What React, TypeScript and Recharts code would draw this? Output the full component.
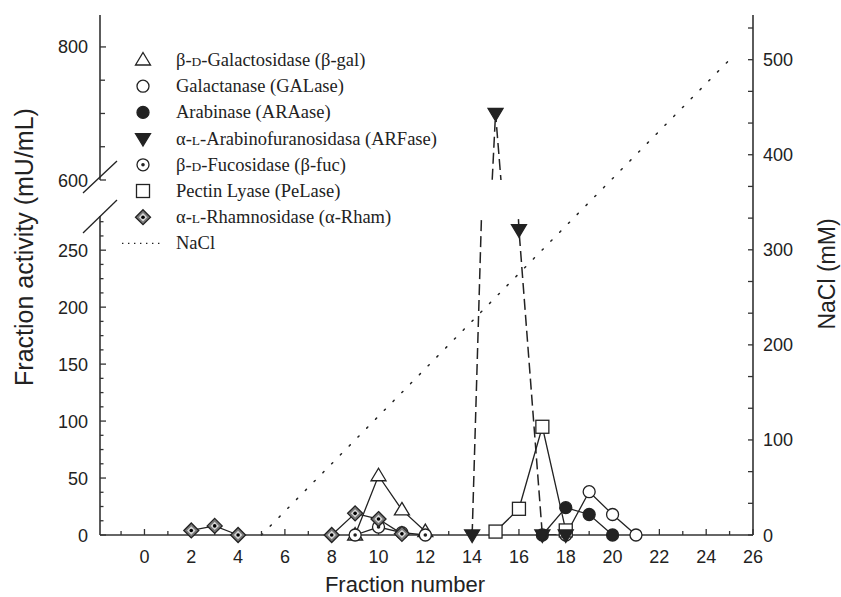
import { LineChart, Line, XAxis, YAxis, Legend } from 'recharts';

// Fraction numbers and activities (mU/mL)
const BGAL_X = [9, 10, 11, 12];
const BGAL_Y = [0, 52, 22, 3];
const GAL_X = [18, 19, 20, 21];
const GAL_Y = [0, 38, 18, 0];
const ARA_X = [17, 18, 19, 20];
const ARA_Y = [0, 24, 18, 0];
const ARF_X = [14, 15, 16, 17, 18];
const ARF_Y = [0, 700, 268, 0, 0];
const FUC_X = [9, 10, 11, 12];
const FUC_Y = [0, 7, 2, 0];
const PEL_X = [15, 16, 17, 18];
const PEL_Y = [3, 23, 95, 4];
const RHAM_X = [2, 3, 4, 6, 8, 9, 10, 11];
const RHAM_Y: (number | null)[] = [4, 8, 0, null, 0, 19, 14, 1];
const NACL_X = [5, 25];
const NACL_Y = [0, 500];

const LEGEND_LABELS = [
  'β-|D|-Galactosidase (β-gal)',
  'Galactanase (GALase)',
  'Arabinase (ARAase)',
  'α-|L|-Arabinofuranosidasa (ARFase)',
  'β-|D|-Fucosidase (β-fuc)',
  'Pectin Lyase (PeLase)',
  'α-|L|-Rhamnosidase (α-Rham)',
  'NaCl',
];

// axes
const X_DOMAIN = [-1.9, 26];
const X_TICKS = [-1, 0, 1, 2, 3, 4, 5, 6, 7, 8, 9, 10, 11, 12, 13, 14, 15, 16, 17, 18, 19, 20, 21, 22, 23, 24, 25, 26];
const X_LABELS = [0, 2, 4, 6, 8, 10, 12, 14, 16, 18, 20, 22, 24, 26];
const LOW_DOMAIN = [0, 280];
const LOW_TICKS = [0, 12.5, 25, 37.5, 50, 62.5, 75, 87.5, 100, 112.5, 125, 137.5, 150, 162.5, 175, 187.5, 200, 212.5, 225, 237.5, 250, 262.5, 275];
const LOW_LABELS = [0, 50, 100, 150, 200, 250];
const HIGH_DOMAIN = [600, 848];
const HIGH_TICKS = [600, 650, 700, 750, 800];
const HIGH_LABELS = [600, 800];
const NACL_DOMAIN = [0, 547];
const NACL_TICKS = [0, 33.33, 66.67, 100, 133.33, 166.67, 200, 233.33, 266.67, 300, 333.33, 366.67, 400, 433.33, 466.67, 500, 533.33];
const NACL_LABELS = [0, 100, 200, 300, 400, 500];

const W = 841;
const H = 597;
const INK = '#222';
const AXIS = { stroke: '#333', strokeWidth: 1.6 };
const SANS = '"Liberation Sans", Arial, sans-serif';
const SERIF = '"Liberation Serif", "Times New Roman", serif';

const pts = (xs: number[], ys: (number | null)[]) => xs.map((x, i) => ({ x, y: ys[i] }));

type Kind = 'triUp' | 'circle' | 'disc' | 'triDown' | 'dotCircle' | 'square' | 'diamond';

function Marker({ kind, cx, cy }: { kind: Kind; cx: number; cy: number }) {
  const s = { stroke: INK, strokeWidth: 1.3 };
  switch (kind) {
    case 'triUp':
      return <path d={`M${cx},${cy - 7.5}L${cx + 7.5},${cy + 5}L${cx - 7.5},${cy + 5}Z`} fill="#fff" {...s} />;
    case 'triDown':
      return <path d={`M${cx - 7.5},${cy - 5}L${cx + 7.5},${cy - 5}L${cx},${cy + 7.5}Z`} fill={INK} {...s} />;
    case 'circle':
      return <circle cx={cx} cy={cy} r={6} fill="#fff" {...s} />;
    case 'disc':
      return <circle cx={cx} cy={cy} r={6} fill={INK} {...s} />;
    case 'dotCircle':
      return (
        <g>
          <circle cx={cx} cy={cy} r={6} fill="#fff" {...s} />
          <circle cx={cx} cy={cy} r={1.8} fill={INK} />
        </g>
      );
    case 'square':
      return <rect x={cx - 6.5} y={cy - 6.5} width={13} height={13} fill="#fff" {...s} />;
    case 'diamond':
      return (
        <g>
          <path d={`M${cx},${cy - 7.5}L${cx + 7.5},${cy}L${cx},${cy + 7.5}L${cx - 7.5},${cy}Z`} fill="#777" {...s} />
          <path d={`M${cx},${cy - 4.2}L${cx + 4.2},${cy}L${cx},${cy + 4.2}L${cx - 4.2},${cy}Z`} fill="#d8d8d8" />
          <circle cx={cx} cy={cy} r={1.8} fill="#000" />
        </g>
      );
  }
}

const dotFor = (kind: Kind) => (p: any) => {
  const k = `d-${kind}-${p.index}`;
  if (p.cx == null || p.cy == null || Number.isNaN(p.cx) || Number.isNaN(p.cy)) return <g key={k} />;
  return <g key={k}><Marker kind={kind} cx={p.cx} cy={p.cy} /></g>;
};

function XTick({ x, y, payload }: any) {
  const major = X_LABELS.includes(payload.value);
  return (
    <g>
      <line x1={x} x2={x} y1={y} y2={y - (major ? 6 : 4)} stroke="#333" strokeWidth={1.3} />
      {major && (
        <text x={x} y={y + 28} textAnchor="middle" fontFamily={SANS} fontSize={18} fill={INK}>
          {payload.value}
        </text>
      )}
    </g>
  );
}

const leftTick = (labels: number[], minorLen: number) => ({ x, y, payload }: any) => {
  const major = labels.includes(payload.value);
  return (
    <g>
      <line x1={x} x2={x + (major ? 6 : minorLen)} y1={y} y2={y} stroke="#333" strokeWidth={1.3} />
      {major && (
        <text x={x - 12} y={y + 6.5} textAnchor="end" fontFamily={SANS} fontSize={18} fill={INK}>
          {payload.value}
        </text>
      )}
    </g>
  );
};

function NaclTick({ x, y, payload }: any) {
  const major = NACL_LABELS.includes(payload.value);
  return (
    <g>
      <line x1={x} x2={x - 5} y1={y} y2={y} stroke="#333" strokeWidth={1.3} />
      {major && (
        <text x={x + 10} y={y + 6.5} textAnchor="start" fontFamily={SANS} fontSize={18} fill={INK}>
          {payload.value}
        </text>
      )}
    </g>
  );
}

function Title({ tx, ty, rot, text, size }: { tx: number; ty: number; rot: number; text: string; size: number }) {
  return (
    <text
      x={tx}
      y={ty}
      textAnchor="middle"
      fontFamily={SANS}
      fontSize={size}
      fill={INK}
      transform={rot ? `rotate(${rot}, ${tx}, ${ty})` : undefined}
    >
      {text}
    </text>
  );
}

const LEG_LEFT = 110;
const LEG_TOP = 40;
const LEGEND_KINDS: Kind[] = ['triUp', 'circle', 'disc', 'triDown', 'dotCircle', 'square', 'diamond'];

function LegendBox() {
  return (
    <svg width={360} height={230} style={{ overflow: 'visible' }}>
      {LEGEND_LABELS.map((label, i) => {
        const cy = 60 - LEG_TOP + i * 26.2;
        const parts = label.split('|');
        return (
          <g key={label}>
            {i < LEGEND_KINDS.length ? (
              <Marker kind={LEGEND_KINDS[i]} cx={143 - LEG_LEFT} cy={cy} />
            ) : (
              <line x1={122 - LEG_LEFT} x2={163 - LEG_LEFT} y1={cy} y2={cy} stroke={INK} strokeWidth={1.4} strokeDasharray="1.4 4.6" />
            )}
            <text x={176 - LEG_LEFT} y={cy + 6} fontFamily={SERIF} fontSize={18.5} fill={INK}>
              {parts.map((p, j) => (
                <tspan key={j} fontSize={j === 1 ? 13.5 : 18.5}>{p}</tspan>
              ))}
            </text>
          </g>
        );
      })}
    </svg>
  );
}

const lineStyle = { stroke: INK, strokeWidth: 1.3 };

export default function App() {
  const arf = pts(ARF_X, ARF_Y);
  // markers of the lower segment: only the points that fall inside it
  const arfLow = arf.filter((p) => p.y <= LOW_DOMAIN[1]);
  const solid = [
    { key: 'bgal', data: pts(BGAL_X, BGAL_Y), kind: 'triUp' as Kind },
    { key: 'gal', data: pts(GAL_X, GAL_Y), kind: 'circle' as Kind },
    { key: 'ara', data: pts(ARA_X, ARA_Y), kind: 'disc' as Kind },
    { key: 'fuc', data: pts(FUC_X, FUC_Y), kind: 'dotCircle' as Kind },
    { key: 'pel', data: pts(PEL_X, PEL_Y), kind: 'square' as Kind },
    { key: 'rham', data: pts(RHAM_X, RHAM_Y), kind: 'diamond' as Kind },
  ];

  return (
    <div style={{ position: 'absolute', left: 0, top: 0, width: W, height: H, background: '#fff' }}>
      {/* frame, x axis, NaCl axis and gradient */}
      <div style={{ position: 'absolute', left: 0, top: 0 }}>
        <LineChart width={W} height={H} margin={{ top: 15, right: 28, left: 100, bottom: 0 }}>
          <XAxis
            xAxisId="bottom"
            type="number"
            dataKey="x"
            domain={X_DOMAIN}
            ticks={X_TICKS}
            interval={0}
            height={62}
            tickSize={0}
            tickMargin={0}
            tickLine={false}
            axisLine={AXIS}
            tick={(p: any) => <XTick {...p} />}
            label={<Title tx={405} ty={592} rot={0} text="Fraction number" size={22} />}
          />
          <XAxis xAxisId="top" orientation="top" type="number" domain={X_DOMAIN} height={0} tick={false} tickLine={false} axisLine={AXIS} />
          <YAxis
            yAxisId="nacl"
            orientation="right"
            type="number"
            domain={NACL_DOMAIN}
            ticks={NACL_TICKS}
            interval={0}
            width={60}
            tickSize={0}
            tickMargin={0}
            tickLine={false}
            axisLine={AXIS}
            tick={(p: any) => <NaclTick {...p} />}
            label={<Title tx={835} ty={274} rot={-90} text="NaCl (mM)" size={23} />}
          />
          <Line
            xAxisId="bottom"
            yAxisId="nacl"
            data={pts(NACL_X, NACL_Y)}
            dataKey="y"
            stroke={INK}
            strokeWidth={1.5}
            strokeDasharray="1.5 11"
            strokeLinecap="round"
            dot={false}
            activeDot={false}
            isAnimationActive={false}
          />
          <Legend
            layout="vertical"
            align="center"
            verticalAlign="middle"
            wrapperStyle={{ left: LEG_LEFT, top: LEG_TOP, width: 360, height: 230 }}
            content={() => <LegendBox />}
          />
        </LineChart>
      </div>

      {/* lower segment of the broken activity axis: 0 - 280 */}
      <div style={{ position: 'absolute', left: 0, top: 0 }}>
        <LineChart width={W} height={H} margin={{ top: 216, right: 88, left: 40, bottom: 62 }}>
          <XAxis type="number" dataKey="x" domain={X_DOMAIN} hide />
          <YAxis yAxisId="free" type="number" domain={LOW_DOMAIN} hide width={0} />
          <YAxis
            yAxisId="lo"
            type="number"
            domain={LOW_DOMAIN}
            ticks={LOW_TICKS}
            interval={0}
            allowDataOverflow
            width={60}
            tickSize={0}
            tickMargin={0}
            tickLine={false}
            axisLine={AXIS}
            tick={leftTick(LOW_LABELS, 3.5)}
            label={<Title tx={33} ty={247} rot={-90} text="Fraction activity (mU/mL)" size={25} />}
          />
          <Line
            yAxisId="lo"
            data={arf}
            dataKey="y"
            {...lineStyle}
            strokeWidth={1.5}
            strokeDasharray="11 5"
            dot={false}
            activeDot={false}
            isAnimationActive={false}
          />
          {solid.map((s) => (
            <Line
              key={s.key}
              yAxisId="free"
              data={s.data}
              dataKey="y"
              {...lineStyle}
              dot={dotFor(s.kind)}
              activeDot={false}
              isAnimationActive={false}
            />
          ))}
          <Line
            yAxisId="free"
            data={arfLow}
            dataKey="y"
            stroke="none"
            dot={dotFor('triDown')}
            activeDot={false}
            isAnimationActive={false}
          />
        </LineChart>
      </div>

      {/* upper segment of the broken activity axis: 600 - 848 */}
      <div style={{ position: 'absolute', left: 0, top: 0 }}>
        <LineChart width={W} height={H} margin={{ top: 15, right: 88, left: 40, bottom: 417 }}>
          <XAxis type="number" dataKey="x" domain={X_DOMAIN} hide />
          <YAxis
            type="number"
            domain={HIGH_DOMAIN}
            ticks={HIGH_TICKS}
            interval={0}
            allowDataOverflow
            width={60}
            tickSize={0}
            tickMargin={0}
            tickLine={false}
            axisLine={AXIS}
            tick={leftTick(HIGH_LABELS, 5)}
          />
          <Line
            data={arf}
            dataKey="y"
            {...lineStyle}
            strokeWidth={1.5}
            strokeDasharray="11 5"
            dot={dotFor('triDown')}
            activeDot={false}
            isAnimationActive={false}
          />
        </LineChart>
      </div>

      {/* axis break marks */}
      <svg width={W} height={H} style={{ position: 'absolute', left: 0, top: 0, pointerEvents: 'none' }}>
        <line x1={83} y1={193} x2={117} y2={161} stroke={INK} strokeWidth={1.3} />
        <line x1={83} y1={233} x2={117} y2={200} stroke={INK} strokeWidth={1.3} />
      </svg>
    </div>
  );
}
